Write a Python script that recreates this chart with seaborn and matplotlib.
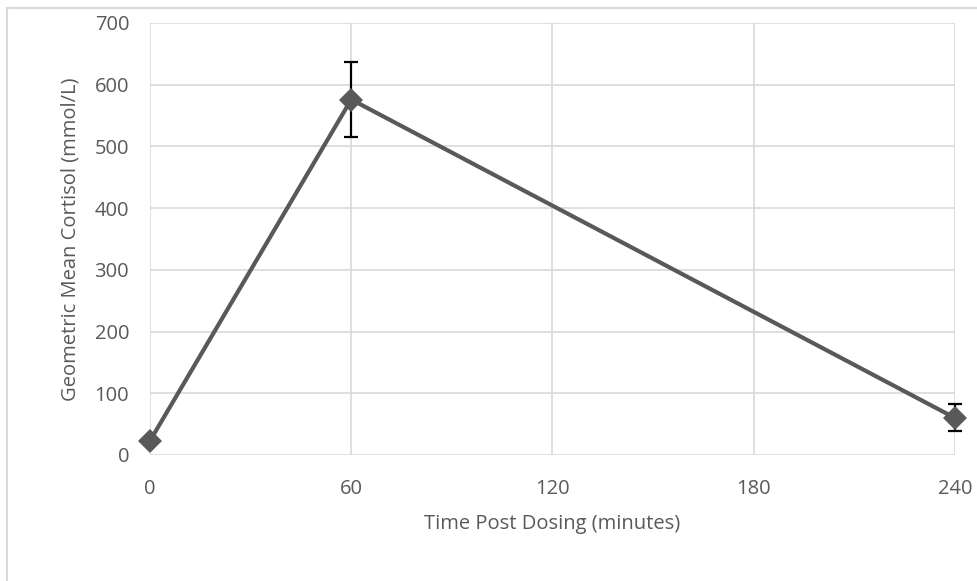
import matplotlib.pyplot as plt
import seaborn as sns
import pandas as pd
from matplotlib.patches import Rectangle

# data
time_min = [0, 60, 240]
cortisol = [23, 576, 60]
err_low = [0, 61, 21]
err_high = [0, 61, 22]

x_ticks = [0, 60, 120, 180, 240]
y_ticks = [0, 100, 200, 300, 400, 500, 600, 700]

df = pd.DataFrame({"time": time_min, "cortisol": cortisol})

sns.set_style("white")
plt.rcParams["font.family"] = ["Open Sans", "DejaVu Sans"]

fig = plt.figure(figsize=(9.78, 5.81), dpi=100)
ax = fig.add_axes([150 / 978, 1 - 455 / 581, 805 / 978, 432 / 581])

# outer chart border (excel style)
fig.patches.append(Rectangle((7 / 978, -0.1), 1.2, 1 - 8 / 581 + 0.1,
                             transform=fig.transFigure, fill=False,
                             edgecolor="#d9d9d9", linewidth=1.5))

ax.errorbar(time_min, cortisol, yerr=[err_low, err_high], fmt="none",
            ecolor="black", elinewidth=1.6, capsize=5, capthick=1.6, zorder=3)
sns.lineplot(data=df, x="time", y="cortisol", ax=ax, color="#595959",
             linewidth=3, marker="D", markersize=12, markeredgewidth=0,
             zorder=4)

ax.set_xlim(0, 240)
ax.set_ylim(0, 700)
ax.set_xticks(x_ticks)
ax.set_yticks(y_ticks)
ax.grid(True, color="#d9d9d9", linewidth=1.2)
for s in ax.spines.values():
    s.set_visible(False)
ax.tick_params(axis="both", length=0, labelsize=14.5, labelcolor="#595959")
ax.tick_params(axis="x", pad=17)
ax.tick_params(axis="y", pad=15)
ax.set_xlabel("Time Post Dosing (minutes)", fontsize=14.5, color="#595959", labelpad=11)
ax.set_ylabel("Geometric Mean Cortisol (mmol/L)", fontsize=14.5, color="#595959", labelpad=10)
for sp in ax.collections + ax.lines:
    sp.set_clip_on(False)

fig.savefig("out.png", dpi=100)
